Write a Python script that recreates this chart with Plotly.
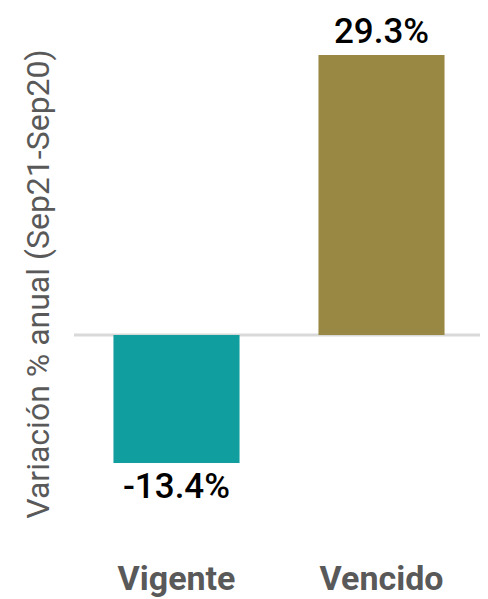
import plotly.graph_objects as go

categories = ["Vigente", "Vencido"]
values = [-13.4, 29.3]
colors = ["#119e9e", "#998844"]
y_title = "Variación % anual (Sep21-Sep20)"

fig = go.Figure(go.Bar(
    x=categories, y=values,
    marker=dict(color=colors, line=dict(width=0)),
    width=0.615,
    text=[f"{v:.1f}%" for v in values],
    textposition="outside",
    textfont=dict(family="Roboto", size=35, color="#000000", weight=500),
    cliponaxis=False,
))

# page has an 8px body margin, so the figure is 8px smaller each way
fig.update_layout(
    width=480, height=591,
    margin=dict(l=66, r=4, t=12, b=51),
    plot_bgcolor="white", paper_bgcolor="white",
    showlegend=False,
    font=dict(family="Roboto"),
)
# zero baseline, running to the right edge of the figure
fig.add_shape(type="line", xref="paper", yref="y", x0=0, x1=1.02, y0=0, y1=0,
              line=dict(color="#d9d9d9", width=3), layer="below")
fig.update_yaxes(
    range=[-22.28, 32.95],
    automargin=False,
    showticklabels=False, showgrid=False, zeroline=False,
    title=dict(text=y_title, font=dict(family="Roboto", size=32, color="#595959"), standoff=13),
)
fig.update_xaxes(
    automargin=False,
    showgrid=False, showline=False,
    tickfont=dict(family="Roboto", size=34, color="#595959", weight="bold"),
    ticklabelstandoff=7,
)

fig.write_html("out.html")
